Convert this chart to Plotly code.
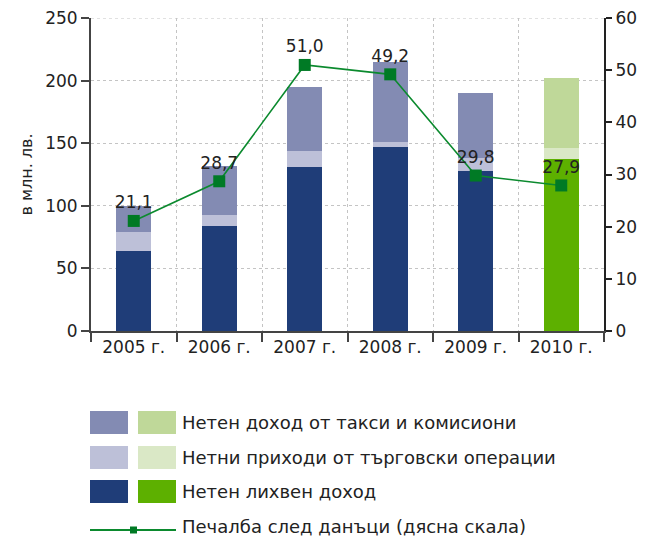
import plotly.graph_objects as go

years = ["2005 г.", "2006 г.", "2007 г.", "2008 г.", "2009 г.", "2010 г."]
interest = [64, 84, 131, 147, 128, 137]
trading = [15, 9, 13, 4, 10, 9]
fees = [21, 39, 51, 64, 52, 56]
profit = [21.1, 28.7, 51.0, 49.2, 29.8, 27.9]
profit_labels = ["21,1", "28,7", "51,0", "49,2", "29,8", "27,9"]

legend_labels = [
    "Нетен доход от такси и комисиони",
    "Нетни приходи от търговски операции",
    "Нетен лихвен доход",
    "Печалба след данъци (дясна скала)",
]

blue = {"fees": "#838bb3", "trading": "#bdc0d8", "interest": "#1f3d78"}
green = {"fees": "#bfd899", "trading": "#dae8c6", "interest": "#5db000"}
line_color = "#0b8a2e"
marker_color = "#007a25"

def cols(key):
    return [blue[key]] * 5 + [green[key]]

FONT = "DejaVu Sans"
TXT = "#222222"
OFF = 8  # page body margin

fig = go.Figure()
for key, vals in (("interest", interest), ("trading", trading), ("fees", fees)):
    fig.add_trace(go.Bar(x=years, y=vals, marker=dict(color=cols(key), line=dict(width=0)),
                         width=0.41, showlegend=False, hoverinfo="y"))

fig.add_trace(go.Scatter(
    x=years, y=profit, yaxis="y2", mode="lines+markers+text",
    line=dict(color=line_color, width=1.6),
    marker=dict(symbol="square", size=12, color=marker_color, line=dict(width=0)),
    text=profit_labels, textposition="top center",
    textfont=dict(size=17, color=TXT, family=FONT),
    showlegend=False, cliponaxis=False))

fig.update_layout(
    width=646 - OFF, height=538 - OFF, barmode="stack",
    margin=dict(l=91 - OFF, r=42, t=18 - OFF, b=207, autoexpand=False),
    paper_bgcolor="white", plot_bgcolor="white",
    font=dict(family=FONT, size=16, color=TXT),
    xaxis=dict(type="category", range=[-0.5, 5.5], tickson="boundaries",
               showgrid=True, gridcolor="#c4c4c4", griddash="dot", gridwidth=1,
               showline=True, linecolor="#444444", linewidth=2,
               ticks="outside", ticklen=9, tickcolor="#444444", tickwidth=1.5,
               tickfont=dict(size=17, color=TXT)),
    yaxis=dict(range=[0, 250], dtick=50, showgrid=True, gridcolor="#c4c4c4",
               griddash="dot", gridwidth=1, zeroline=False,
               showline=True, linecolor="#444444", linewidth=2,
               ticks="outside", ticklen=8, tickcolor="#444444", tickwidth=1.5,
               ticklabeloverflow="allow",
               tickfont=dict(size=17, color=TXT),
               title=dict(text="в млн. лв.", font=dict(size=16, color=TXT), standoff=9)),
    yaxis2=dict(range=[0, 60], dtick=10, overlaying="y", side="right",
                showgrid=False, zeroline=False,
                showline=True, linecolor="#222222", linewidth=2,
                ticks="outside", ticklen=6, tickcolor="#222222", tickwidth=1.5,
                ticklabeloverflow="allow",
                tickfont=dict(size=17, color=TXT)),
)

# custom legend (paper coordinates; plot area 18..331 px page y, 91..604 page x)
H = 313.0
W = 513.0
def py(ypx):
    return (331 - ypx) / H
def px(xpx):
    return (xpx - 91) / W

rows = [(411, 434, "fees"), (446, 469, "trading"), (480, 503, "interest")]
shapes = [dict(type="line", xref="paper", yref="y", x0=0, x1=1, y0=250, y1=250,
               line=dict(color="#c4c4c4", width=1, dash="dot"), layer="below")]
for i, (y0, y1, key) in enumerate(rows):
    shapes.append(dict(type="rect", xref="paper", yref="paper", x0=px(90), x1=px(128),
                       y0=py(y1), y1=py(y0), fillcolor=blue[key], line=dict(width=0)))
    shapes.append(dict(type="rect", xref="paper", yref="paper", x0=px(138), x1=px(176),
                       y0=py(y1), y1=py(y0), fillcolor=green[key], line=dict(width=0)))
    fig.add_annotation(xref="paper", yref="paper", x=px(180), y=py((y0 + y1) / 2),
                       text=legend_labels[i], showarrow=False, xanchor="left",
                       yanchor="middle", font=dict(size=18, color=TXT, family=FONT))
shapes.append(dict(type="line", xref="paper", yref="paper", x0=px(90), x1=px(176),
                   y0=py(530), y1=py(530), line=dict(color=line_color, width=2)))
shapes.append(dict(type="rect", xref="paper", yref="paper", x0=px(130), x1=px(137),
                   y0=py(533.5), y1=py(526.5), fillcolor=marker_color, line=dict(width=0)))
fig.add_annotation(xref="paper", yref="paper", x=px(180), y=py(526),
                   text=legend_labels[3], showarrow=False, xanchor="left",
                   yanchor="middle", font=dict(size=18, color=TXT, family=FONT))
fig.update_layout(shapes=shapes)

fig.write_html("out.html")
